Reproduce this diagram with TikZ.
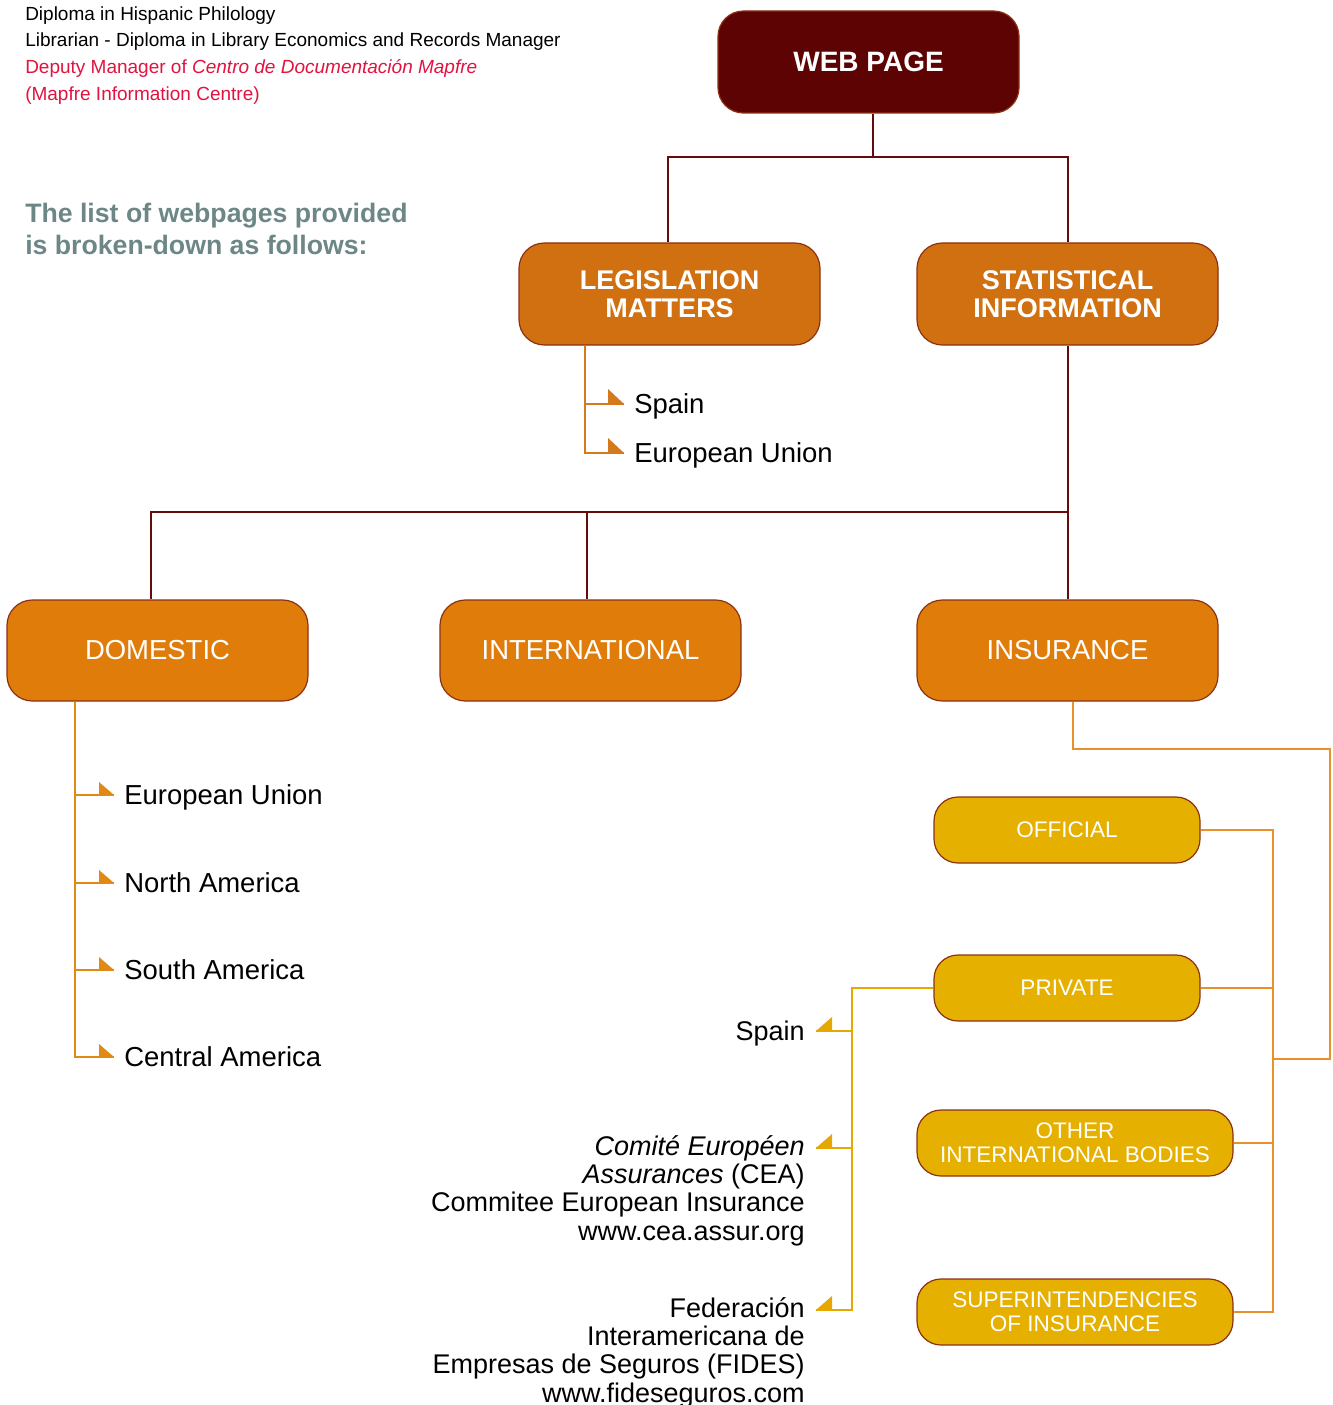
\documentclass[tikz,border=0pt]{standalone}
\usepackage{fontspec}
\setmainfont{Liberation Sans}
\usetikzlibrary{calc}
\definecolor{maroonfill}{RGB}{94,3,3}
\definecolor{maroonline}{RGB}{100,12,12}
\definecolor{legfill}{RGB}{208,112,17}
\definecolor{domfill}{RGB}{224,125,10}
\definecolor{goldfill}{RGB}{229,176,0}
\definecolor{boxborder}{RGB}{140,50,20}
\definecolor{legc}{RGB}{211,122,30}
\definecolor{domc}{RGB}{224,138,21}
\definecolor{insc}{RGB}{232,144,42}
\definecolor{pc}{RGB}{230,168,0}
\definecolor{titlec}{RGB}{108,135,134}
\definecolor{redc}{RGB}{225,20,65}
\begin{document}
\begin{tikzpicture}[x=0.75pt,y=-0.75pt,
  bigbox/.style={draw=boxborder, line width=0.9pt, rounded corners=19pt, inner sep=0pt,
    minimum width=225.75pt, minimum height=76.5pt, align=center, text=white},
  goldbox/.style={draw=boxborder, line width=0.9pt, fill=goldfill, rounded corners=18pt, inner sep=0pt,
    minimum width=199.5pt, minimum height=49.5pt, align=center, text=white,
    font=\fontsize{16.9}{18}\selectfont},
  mline/.style={draw=maroonline, line width=1.5pt},
  legline/.style={draw=legc, line width=1.4pt},
  domline/.style={draw=domc, line width=1.4pt},
  insline/.style={draw=insc, line width=1.4pt},
  pline/.style={draw=pc, line width=1.4pt},
  ltext/.style={anchor=west, inner xsep=7.5pt, inner ysep=0pt, text height=14.8pt, text depth=0pt,
    font=\fontsize{20.6}{24}\selectfont},
  rtext/.style={inner sep=0pt, align=right, font=\fontsize{20.25}{21.25}\selectfont},
  hdtext/.style={anchor=base west, inner sep=0pt, font=\fontsize{14.25}{17}\selectfont}
]
\path[use as bounding box, fill=white] (0,0) rectangle (1332,1405);

% header texts
\node[hdtext] (hd1) at (25,21) {Diploma in Hispanic Philology};
\node[hdtext] (hd2) at (25,47) {Librarian - Diploma in Library Economics and Records Manager};
\node[hdtext, text=redc] (hd3) at (25,74) {Deputy Manager of \textit{Centro de Documentación Mapfre}};
\node[hdtext, text=redc] (hd4) at (25,101) {(Mapfre Information Centre)};

\node[anchor=north west, inner sep=0pt, align=left, text=titlec,
  font=\bfseries\fontsize{20}{24}\selectfont] (title) at (25,203)
  {The list of webpages provided\\is broken-down as follows:};

% main boxes
\node[bigbox, fill=maroonfill, font=\bfseries\fontsize{21}{24}\selectfont] (web) at (868.5,62) {WEB PAGE};
\node[bigbox, fill=legfill, font=\bfseries\fontsize{20.25}{21}\selectfont] (leg) at (669.5,294) {LEGISLATION\\MATTERS};
\node[bigbox, fill=legfill, font=\bfseries\fontsize{20.25}{21}\selectfont] (stat) at (1067.5,294) {STATISTICAL\\INFORMATION};
\node[bigbox, fill=domfill, minimum height=75.75pt, font=\fontsize{20.6}{24}\selectfont] (dom) at (157.5,650.5) {DOMESTIC};
\node[bigbox, fill=domfill, minimum height=75.75pt, font=\fontsize{20.6}{24}\selectfont] (intl) at (590.5,650.5) {INTERNATIONAL};
\node[bigbox, fill=domfill, minimum height=75.75pt, font=\fontsize{20.6}{24}\selectfont] (ins) at (1067.5,650.5) {INSURANCE};

% gold boxes
\node[goldbox] (off) at (1067,830) {OFFICIAL};
\node[goldbox] (priv) at (1067,988) {PRIVATE};
\node[goldbox, minimum width=237pt] (oth) at (1075,1143) {OTHER\\INTERNATIONAL BODIES};
\node[goldbox, minimum width=237pt] (sup) at (1075,1312) {SUPERINTENDENCIES\\OF INSURANCE};

% maroon connectors
\coordinate (j1) at (873,157);
\coordinate (j2) at (1068,512);
\draw[mline] ($(web.south)+(4.5,0)$) -- (j1);
\draw[mline] (j1) -| ($(leg.north)+(-1.5,0)$);
\draw[mline] (j1) -| (stat.north);
\draw[mline] (stat.south) -- (ins.north);
\draw[mline] (j2) -| ($(dom.north)+(-6.5,0)$);
\draw[mline] (j2 -| intl.north) ++(-3.5,0) -- ($(intl.north)+(-3.5,0)$);

% legislation list
\node[ltext] (ls1) at (624,404) {Spain};
\node[ltext] (ls2) at (624,453) {European Union};
\coordinate (legx) at ($(leg.south west)+(67,0)$);
\foreach \n in {ls1,ls2}{
  \draw[legline] (legx) |- (\n.west);
  \fill[legc] (\n.west) -- ++(-16,0) -- ++(0,-15) -- cycle;
}

% domestic list
\node[ltext] (d1) at (114,795) {European Union};
\node[ltext] (d2) at (114,883) {North America};
\node[ltext] (d3) at (114,970) {South America};
\node[ltext] (d4) at (114,1057) {Central America};
\coordinate (domx) at ($(dom.south west)+(69,0)$);
\foreach \n in {d1,d2,d3,d4}{
  \draw[domline] (domx) |- (\n.west);
  \fill[domc] (\n.west) -- ++(-15,0) -- ++(0,-13) -- cycle;
}

% insurance connectors
\coordinate (far) at (1330,749);
\coordinate (gb) at (1273,1059);
\draw[insline] ($(ins.south)+(5.5,0)$) |- (far) |- (gb);
\draw[insline] (off.east) -| (gb |- sup.east) -- (sup.east);
\draw[insline] (priv.east) -- (priv.east -| gb);
\draw[insline] (oth.east) -- (oth.east -| gb);

% private list
\coordinate (tcea) at (816,1148);
\coordinate (tfid) at (816,1310);
\coordinate (pb) at (852,1310);
\node[ltext, anchor=east, inner xsep=8.25pt, font=\fontsize{20.25}{24}\selectfont] (rs) at (816,1031) {Spain};
\node[rtext, anchor=north east] (cea) at ($(tcea)+(-11,-13)$)
  {\textit{Comité Européen}\\\textit{Assurances} (CEA)\\Commitee European Insurance\\www.cea.assur.org};
\node[rtext, anchor=north east] (fid) at ($(tfid)+(-11,-13)$)
  {Federación\\Interamericana de\\Empresas de Seguros (FIDES)\\www.fideseguros.com};
\draw[pline] (priv.west) -| (pb) -- (tfid);
\draw[pline] (pb |- rs.east) -- (rs.east);
\draw[pline] (pb |- tcea) -- (tcea);
\foreach \t in {rs.east,tcea,tfid}{
  \fill[pc] (\t) -- ++(16,0) -- ++(0,-14) -- cycle;
}
\end{tikzpicture}
\end{document}
